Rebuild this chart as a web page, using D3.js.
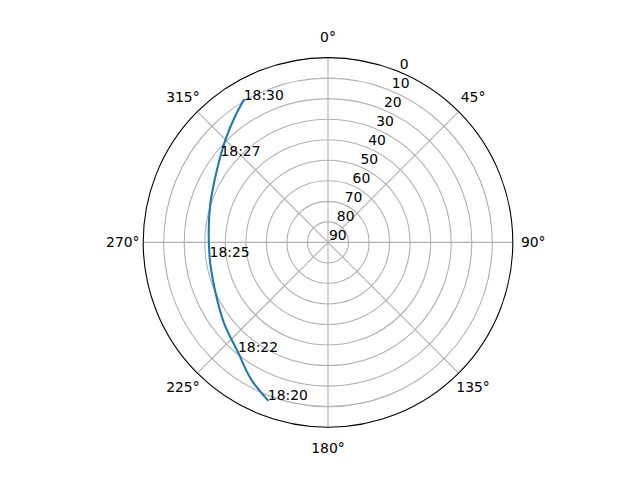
<!DOCTYPE html>
<html>
<head>
<meta charset="utf-8">
<script src="https://cdn.jsdelivr.net/npm/d3@7"></script>
<style>
  body { margin: 0; background: #fff; }
  svg { display: block; font-family: "DejaVu Sans", sans-serif; }
</style>
</head>
<body>
<div id="chart"></div>
<script>
// pass track, azimuth (deg, clockwise from north) and elevation (deg)
const times = ["18:20", "18:21", "18:22", "18:23", "18:24", "18:25", "18:26", "18:27", "18:28", "18:29", "18:30"];
const azimuth = [200.9, 209.4, 219.4, 232.2, 247.4, 263.0, 287.1, 308.8, 316.1, 323.2, 329.4];
const elevation = [7.8, 13.6, 20.9, 25.9, 30.3, 31.9, 29.9, 22.8, 18.7, 14.0, 9.4];
const labelTimes = ["18:20", "18:22", "18:25", "18:27", "18:30"];

const thetaTicks = [0, 45, 90, 135, 180, 225, 270, 315];
const rTicks = [0, 10, 20, 30, 40, 50, 60, 70, 80, 90];

const width = 640, height = 480;
const cx = 328, cy = 242.4, R = 184.8;
const fontSize = 13.9;

const svg = d3.select("#chart").append("svg")
    .attr("width", width)
    .attr("height", height);

const g = svg.append("g").attr("transform", `translate(${cx},${cy})`);

// elevation 90 at centre, 0 at the rim
const r = d3.scaleLinear().domain([90, 0]).range([0, R]);
const rad = a => a * Math.PI / 180;
const px = (az, el) => [r(el) * Math.sin(rad(az)), -r(el) * Math.cos(rad(az))];

// circular grid
g.selectAll("circle.grid")
    .data(rTicks.filter(v => v > 0 && v < 90))
    .enter().append("circle")
    .attr("class", "grid")
    .attr("r", d => r(d))
    .attr("fill", "none")
    .attr("stroke", "#b0b0b0")
    .attr("stroke-width", 1.1);

// radial grid
g.selectAll("line.spoke")
    .data(thetaTicks)
    .enter().append("line")
    .attr("class", "spoke")
    .attr("x1", 0).attr("y1", 0)
    .attr("x2", d => px(d, 0)[0])
    .attr("y2", d => px(d, 0)[1])
    .attr("stroke", "#b0b0b0")
    .attr("stroke-width", 1.1);

// outer spine
g.append("circle")
    .attr("r", R)
    .attr("fill", "none")
    .attr("stroke", "#000")
    .attr("stroke-width", 1.1);

// theta labels
g.selectAll("text.theta")
    .data(thetaTicks)
    .enter().append("text")
    .attr("class", "theta")
    .attr("x", d => (R + 20.4) * Math.sin(rad(d)))
    .attr("y", d => -(R + 20.4) * Math.cos(rad(d)))
    .attr("text-anchor", "middle")
    .attr("dominant-baseline", "central")
    .attr("font-size", fontSize)
    .text(d => d + "°");

// r labels along 22.5°
g.selectAll("text.rlabel")
    .data(rTicks)
    .enter().append("text")
    .attr("class", "rlabel")
    .attr("x", d => px(22.5, d)[0] + 1)
    .attr("y", d => px(22.5, d)[1] - 2.8)
    .attr("font-size", fontSize)
    .text(d => d);

// track
const pts = times.map((t, i) => ({ t, az: azimuth[i], el: elevation[i] }));
const line = d3.line()
    .x(d => px(d.az, d.el)[0])
    .y(d => px(d.az, d.el)[1])
    .curve(d3.curveCatmullRom);

g.append("path")
    .datum(pts)
    .attr("d", line)
    .attr("fill", "none")
    .attr("stroke", "#1f77b4")
    .attr("stroke-width", 2.08)
    .attr("stroke-linecap", "square");

// time annotations
g.selectAll("text.time")
    .data(pts.filter(d => labelTimes.includes(d.t)))
    .enter().append("text")
    .attr("class", "time")
    .attr("x", d => px(d.az, d.el)[0])
    .attr("y", d => px(d.az, d.el)[1])
    .attr("font-size", fontSize)
    .text(d => d.t);
</script>
</body>
</html>
